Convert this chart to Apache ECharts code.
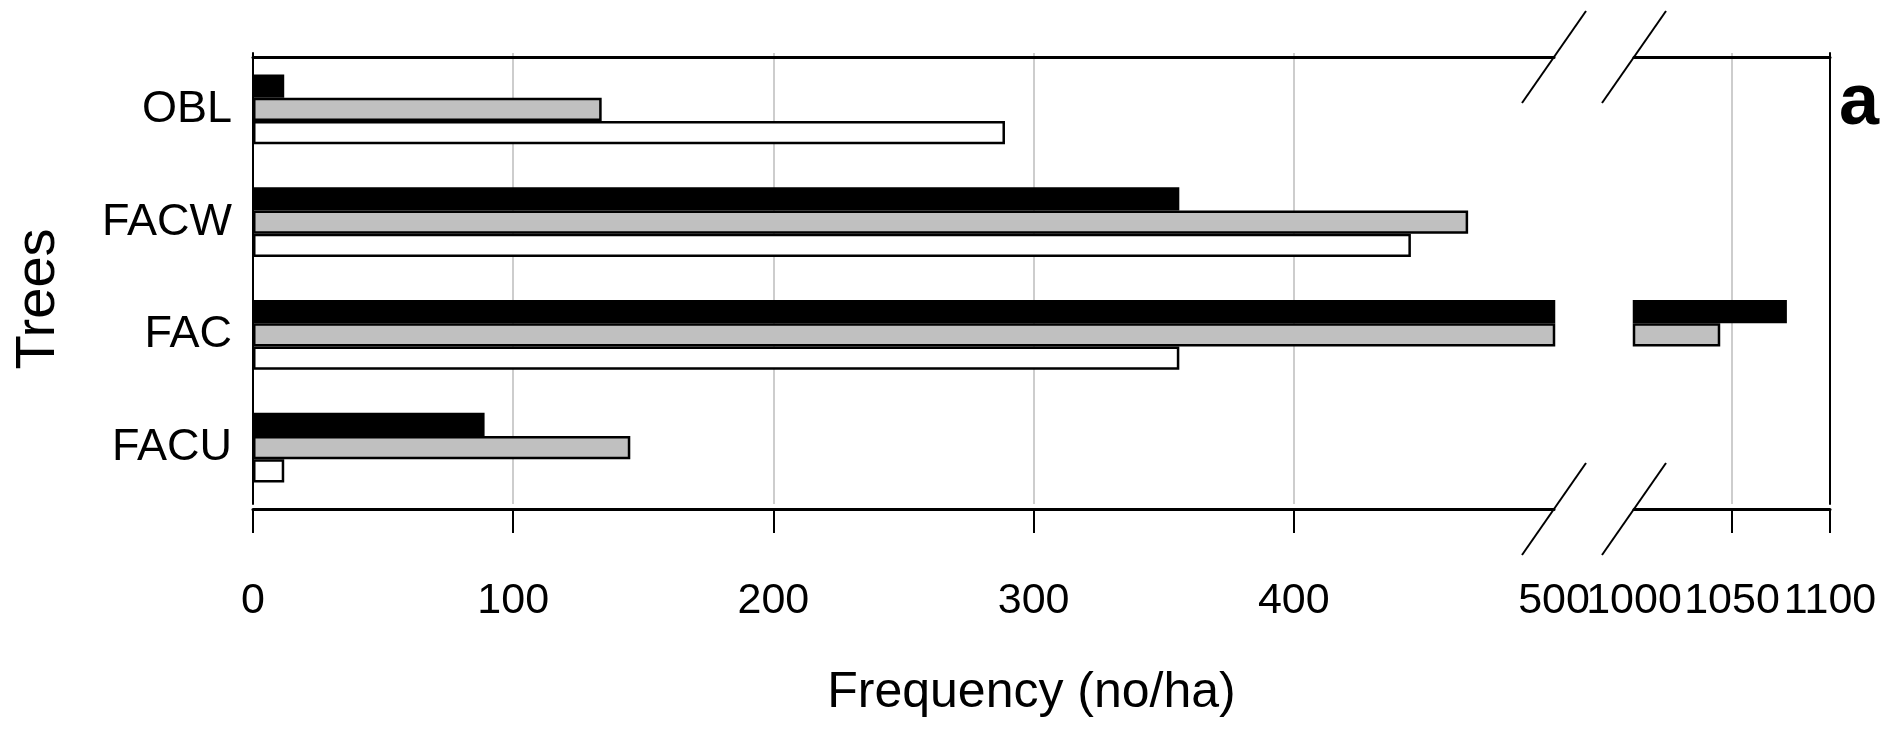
<!DOCTYPE html>
<html>
<head>
<meta charset="utf-8">
<script src="https://cdn.jsdelivr.net/npm/echarts@6/dist/echarts.min.js"></script>
<style>
  html, body { margin: 0; padding: 0; background: #fff; }
  #chart { width: 1883px; height: 745px; }
</style>
</head>
<body>
<div id="chart"></div>
<script>
// ---- data ----
const categories = ['OBL', 'FACW', 'FAC', 'FACU'];
const blackVals = [12, 356, 1078, 89];
const grayVals  = [134, 467, 1044, 145];
const whiteVals = [289, 445, 356, 12];
const leftTicks  = [0, 100, 200, 300, 400, 500];
const rightTicks = [1000, 1050, 1100];
const xTitle = 'Frequency (no/ha)';
const yTitle = 'Trees';
const panelLabel = 'a';

// ---- styling ----
const FONT = "'Liberation Sans', Arial, Helvetica, sans-serif";
const gridLine = { show: true, lineStyle: { color: '#bdbdbd', width: 1.5 } };
const plainNum = function (v) { return String(v); };

const chart = echarts.init(document.getElementById('chart'), null, { renderer: 'canvas' });

function barSeries(name, data, fill, xi, yi) {
  return {
    type: 'bar', name: name, data: data, xAxisIndex: xi, yAxisIndex: yi,
    clip: true, barGap: '0%', barCategoryGap: '38%',
    itemStyle: { color: fill, borderColor: '#000', borderWidth: 2.5 },
    emphasis: { disabled: true }, silent: true
  };
}

function bottomAxis(gridIndex, ticks, interval, tickVals) {
  return {
    type: 'value', gridIndex: gridIndex, position: 'bottom', offset: 5,
    min: ticks[0], max: ticks[ticks.length - 1], interval: interval,
    axisLine: { show: true, onZero: false, lineStyle: { color: '#000', width: 3 } },
    axisTick: { show: true, inside: false, length: 24, customValues: tickVals, lineStyle: { color: '#000', width: 2 } },
    axisLabel: {
      show: true, customValues: ticks, formatter: plainNum, margin: 71,
      showMinLabel: true, showMaxLabel: true, hideOverlap: false,
      color: '#000', fontSize: 43, fontFamily: FONT
    },
    splitLine: gridLine
  };
}
function topAxis(gridIndex, ticks) {
  return {
    type: 'value', gridIndex: gridIndex, position: 'top', offset: -4,
    min: ticks[0], max: ticks[ticks.length - 1],
    axisLine: { show: true, onZero: false, lineStyle: { color: '#000', width: 3 } },
    axisTick: { show: false }, axisLabel: { show: false }, splitLine: { show: false }
  };
}

const option = {
  animation: false,
  backgroundColor: '#fff',
  grid: [
    { left: 253, right: 329, top: 53, bottom: 241, containLabel: false },
    { left: 1634, right: 53, top: 53, bottom: 241, containLabel: false }
  ],
  xAxis: [
    bottomAxis(0, leftTicks, 100, leftTicks.slice(0, -1)),
    topAxis(0, leftTicks),
    bottomAxis(1, rightTicks, 50, rightTicks.slice(1)),
    topAxis(1, rightTicks)
  ],
  yAxis: [
    {
      type: 'category', gridIndex: 0, data: categories, inverse: true, position: 'left',
      axisLine: { show: true, lineStyle: { color: '#000', width: 2 } },
      axisTick: { show: false },
      axisLabel: { margin: 21, color: '#000', fontSize: 45, fontFamily: FONT }
    },
    {
      type: 'category', gridIndex: 1, data: categories, inverse: true, position: 'right',
      axisLine: { show: true, lineStyle: { color: '#000', width: 2 } },
      axisTick: { show: false }, axisLabel: { show: false }
    }
  ],
  series: [
    barSeries('black', blackVals, '#000000', 0, 0),
    barSeries('gray',  grayVals,  '#c0c0c0', 0, 0),
    barSeries('white', whiteVals, '#ffffff', 0, 0),
    barSeries('black', blackVals, '#000000', 2, 1),
    barSeries('gray',  grayVals,  '#c0c0c0', 2, 1),
    barSeries('white', whiteVals, '#ffffff', 2, 1)
  ]
};
chart.setOption(option);

// ---- break marks and free text, positioned from the axes ----
function gridRect(i) {
  try { return chart.getModel().getComponent('grid', i).coordinateSystem.getRect(); }
  catch (e) { return null; }
}
const r0 = gridRect(0);
const xBreakL = chart.convertToPixel({ xAxisIndex: 0 }, leftTicks[leftTicks.length - 1]);
const xBreakR = chart.convertToPixel({ xAxisIndex: 2 }, rightTicks[0]);
const yTop = r0 ? r0.y + 4 : 57;
const yBot = r0 ? r0.y + r0.height + 5 : 509;
const dx = 32, dy = 46;
const slashes = [];
[xBreakL, xBreakR].forEach(function (x) {
  [yTop, yBot].forEach(function (y) {
    slashes.push({
      type: 'line', silent: true, z: 100,
      shape: { x1: x - dx, y1: y + dy, x2: x + dx, y2: y - dy },
      style: { stroke: '#000', lineWidth: 2 }
    });
  });
});
const leftEdge = chart.convertToPixel({ xAxisIndex: 0 }, leftTicks[0]);
const rightEdge = chart.convertToPixel({ xAxisIndex: 2 }, rightTicks[rightTicks.length - 1]);
const xMid = (leftEdge + rightEdge) / 2;
chart.setOption({
  graphic: slashes.concat([
    { type: 'text', silent: true, x: xMid - 10, y: 693,
      style: { text: xTitle, fill: '#000', font: '50px ' + FONT, textAlign: 'center', textVerticalAlign: 'middle' } },
    { type: 'text', silent: true, x: leftEdge - 214, y: (yTop + yBot) / 2 + 16, rotation: Math.PI / 2,
      style: { text: yTitle, fill: '#000', font: '56px ' + FONT, textAlign: 'center', textVerticalAlign: 'middle' } },
    { type: 'text', silent: true, x: rightEdge + 29, y: 104,
      style: { text: panelLabel, fill: '#000', font: 'bold 72px ' + FONT, textAlign: 'center', textVerticalAlign: 'middle' } }
  ])
});
</script>
</body>
</html>
